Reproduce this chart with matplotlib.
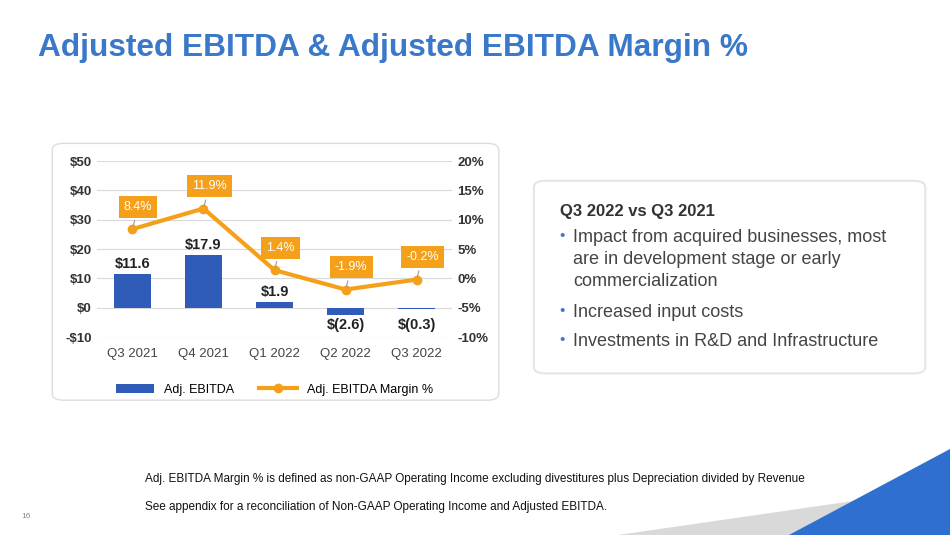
import matplotlib.pyplot as plt
from matplotlib.patches import FancyBboxPatch, Polygon

quarters = ["Q3 2021", "Q4 2021", "Q1 2022", "Q2 2022", "Q3 2022"]
ebitda = [11.6, 17.9, 1.9, -2.6, -0.3]
ebitda_labels = ["$11.6", "$17.9", "$1.9", "$(2.6)", "$(0.3)"]
margin = [8.4, 11.9, 1.4, -1.9, -0.2]
bullets = ["Impact from acquired businesses, most\nare in development stage or early\ncommercialization",
           "Increased input costs",
           "Investments in R&D and Infrastructure"]

plt.rcParams['font.family'] = ['Liberation Sans', 'DejaVu Sans']
fig = plt.figure(figsize=(9.5, 5.35), dpi=100)
fig.patch.set_facecolor("white")

fig.text(0.04, 0.91, "Adjusted EBITDA & Adjusted EBITDA Margin %", fontsize=22.8,
         fontweight="bold", color="#3A78C9", va="center")

# chart card
fig.patches.append(FancyBboxPatch((0.055, 0.252), 0.47, 0.48, boxstyle="round,pad=0,rounding_size=0.012",
                                  transform=fig.transFigure, facecolor="white", edgecolor="#dddddd",
                                  linewidth=1, zorder=-1))
# text card
fig.patches.append(FancyBboxPatch((0.562, 0.302), 0.412, 0.36, boxstyle="round,pad=0,rounding_size=0.012",
                                  transform=fig.transFigure, facecolor="white", edgecolor="#e6e6e6",
                                  linewidth=1.5, zorder=-1))

ax = fig.add_axes([0.102, 0.370, 0.374, 0.329])
ax.set_facecolor("none")
x = range(len(quarters))
ax.bar(x, ebitda, width=0.52, color="#2E5CB8", zorder=2, label="Adj. EBITDA")
ax.set_ylim(-10, 50)
ax.set_xlim(-0.5, 4.5)
ax.set_yticks(range(-10, 51, 10))
ax.set_yticklabels(["-$10" if v < 0 else f"${v}" for v in range(-10, 51, 10)])
ax.set_xticks(list(x))
ax.set_xticklabels(quarters, fontsize=10, color="#444444")
ax.grid(axis="y", color="#d9d9d9", linewidth=0.8, zorder=0)
for s in ax.spines.values():
    s.set_visible(False)
ax.tick_params(length=0, labelsize=9.5)
ax.tick_params(axis="x", pad=8)
for t in ax.get_yticklabels():
    t.set_fontweight("bold")
    t.set_color("#333333")
for i, (v, lab) in enumerate(zip(ebitda, ebitda_labels)):
    if v >= 0:
        ax.text(i, v + 1, lab, ha="center", va="bottom", fontsize=10.5, fontweight="bold", color="#222222")
    else:
        ax.text(i, -3.5, lab, ha="center", va="top", fontsize=10.5, fontweight="bold", color="#222222")

ax2 = ax.twinx()
ax2.plot(list(x), margin, color="#F5A01A", linewidth=3, marker="o", markersize=6, zorder=3,
         label="Adj. EBITDA Margin %")
ax2.set_ylim(-10, 20)
ax2.set_yticks(range(-10, 21, 5))
ax2.set_yticklabels([f"{v}%" for v in range(-10, 21, 5)])
ax2.tick_params(length=0, labelsize=9.5)
for t in ax2.get_yticklabels():
    t.set_fontweight("bold")
    t.set_color("#333333")
for s in ax2.spines.values():
    s.set_visible(False)
for i, m in enumerate(margin):
    ax2.annotate(f"{m}%", (i, m), xytext=(i + 0.08, m + 3.8), ha="center", va="center",
                 fontsize=9, color="white",
                 bbox=dict(boxstyle="square,pad=0.4", facecolor="#F5A01A", edgecolor="none"),
                 arrowprops=dict(arrowstyle="-", color="#999999", lw=0.8))

h1, l1 = ax.get_legend_handles_labels()
h2, l2 = ax2.get_legend_handles_labels()
ax.legend(h1 + h2, l1 + l2, loc="upper center", bbox_to_anchor=(0.5, -0.2), ncol=2,
          frameon=False, fontsize=9, handlelength=3)

fig.text(0.589, 0.605, "Q3 2022 vs Q3 2021", fontsize=12, fontweight="bold", color="#333333", va="center")
ys = [0.572, 0.432, 0.378]
for y, b in zip(ys, bullets):
    fig.text(0.589, y, "•", fontsize=11, color="#3A78C9", va="top")
    fig.text(0.603, y, b, fontsize=13, color="#444444", va="top", linespacing=1.4)

fig.text(0.153, 0.105, "Adj. EBITDA Margin % is defined as non-GAAP Operating Income excluding divestitures plus Depreciation divided by Revenue",
         fontsize=8.5, color="#111111", va="center")
fig.text(0.153, 0.052, "See appendix for a reconciliation of Non-GAAP Operating Income and Adjusted EBITDA.",
         fontsize=8.5, color="#111111", va="center")
fig.text(0.022, 0.035, "16", fontsize=6, color="#888888", va="center")

fig.patches.append(Polygon([(0.65, 0.0), (1.0, 0.0), (1.0, 0.09)], closed=True,
                           transform=fig.transFigure, facecolor="#d9d9d9", edgecolor="none"))
fig.patches.append(Polygon([(0.83, 0.0), (1.0, 0.0), (1.0, 0.16)], closed=True,
                           transform=fig.transFigure, facecolor="#2F6FD0", edgecolor="none"))

fig.savefig("out.png", dpi=100)
